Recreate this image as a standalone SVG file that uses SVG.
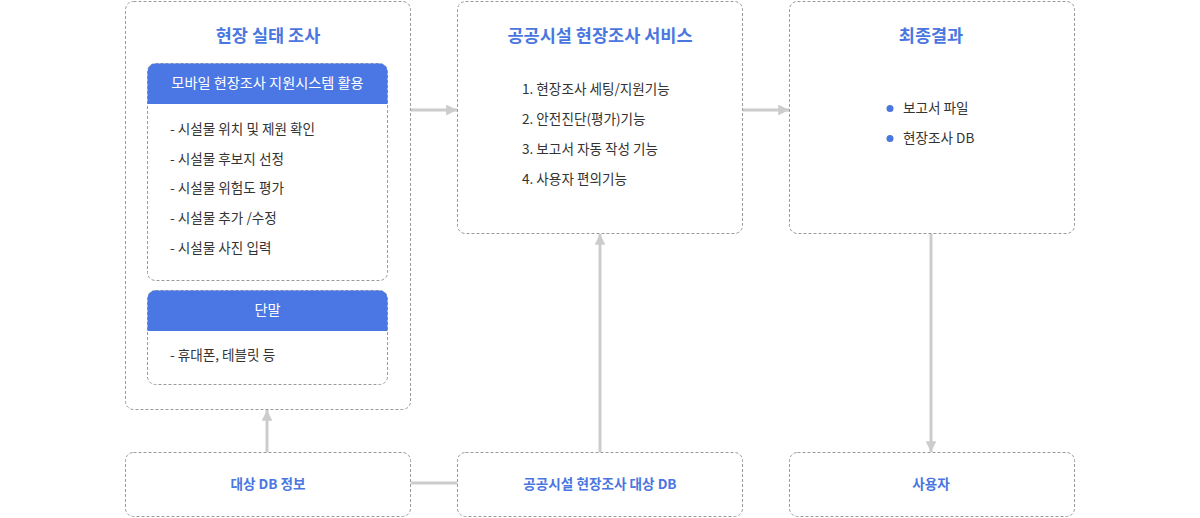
<svg xmlns="http://www.w3.org/2000/svg" width="1200" height="518" viewBox="0 0 1200 518">
<style>
.box{fill:#fff;stroke:#9a9a9a;stroke-width:1;stroke-dasharray:3,2}
.hdr{fill:#4a77e3}
.title{font-family:"Noto Sans CJK KR","Noto Sans",sans-serif;font-size:17.5px;font-weight:bold;fill:#4a76e0;text-anchor:middle}
.htxt{font-family:"Noto Sans CJK KR","Noto Sans",sans-serif;font-size:14.2px;fill:#fff;text-anchor:middle}
.item{font-family:"Noto Sans CJK KR","Noto Sans",sans-serif;font-size:13.6px;fill:#333}
.btm{font-family:"Noto Sans CJK KR","Noto Sans",sans-serif;font-size:13.6px;font-weight:bold;fill:#4a76e0;text-anchor:middle}
.conn{stroke:#cccccc;stroke-width:3;fill:none}
</style>
<defs>
<marker id="ah" viewBox="0 0 10 10" refX="10" refY="5" markerWidth="3.6" markerHeight="3.6" orient="auto" markerUnits="strokeWidth">
<path d="M0,0 L10,5 L0,10 z" fill="#cccccc"/>
</marker>
</defs>
<g id="connectors">
<line class="conn" x1="410.5" y1="110" x2="457" y2="110" marker-end="url(#ah)"/>
<line class="conn" x1="742.5" y1="110" x2="789" y2="110" marker-end="url(#ah)"/>
<line class="conn" x1="931" y1="233.5" x2="931" y2="452" marker-end="url(#ah)"/>
<line class="conn" x1="600" y1="452.5" x2="600" y2="234" marker-end="url(#ah)"/>
<line class="conn" x1="267" y1="452.5" x2="267" y2="410" marker-end="url(#ah)"/>
<line class="conn" x1="410.5" y1="483" x2="457.5" y2="483"/>
</g>
<g id="node-survey">
<rect class="box" x="125.5" y="1.5" width="285" height="408" rx="8"/>
<text class="title" x="268" y="42">현장 실태 조사</text>
<g id="node-mobile">
<rect class="box" x="147.5" y="63.5" width="240" height="217" rx="8"/>
<path class="hdr" d="M147.5,104 V71.5 A8,8 0 0 1 155.5,63.5 H379.5 A8,8 0 0 1 387.5,71.5 V104 Z"/>
<text class="htxt" x="267.5" y="88">모바일 현장조사 지원시스템 활용</text>
<text class="item" x="170" y="134">- 시설물 위치 및 제원 확인</text>
<text class="item" x="170" y="164">- 시설물 후보지 선정</text>
<text class="item" x="170" y="193">- 시설물 위험도 평가</text>
<text class="item" x="170" y="223">- 시설물 추가 /수정</text>
<text class="item" x="170" y="253">- 시설물 사진 입력</text>
</g>
<g id="node-device">
<rect class="box" x="147.5" y="290.5" width="240" height="94" rx="8"/>
<path class="hdr" d="M147.5,331 V298.5 A8,8 0 0 1 155.5,290.5 H379.5 A8,8 0 0 1 387.5,298.5 V331 Z"/>
<text class="htxt" x="267.5" y="315">단말</text>
<text class="item" x="170" y="360">- 휴대폰, 테블릿 등</text>
</g>
</g>
<g id="node-service">
<rect class="box" x="457.5" y="1.5" width="285" height="232" rx="8"/>
<text class="title" x="600" y="42">공공시설 현장조사 서비스</text>
<text class="item" x="522" y="94">1. 현장조사 세팅/지원기능</text>
<text class="item" x="522" y="124">2. 안전진단(평가)기능</text>
<text class="item" x="522" y="154">3. 보고서 자동 작성 기능</text>
<text class="item" x="522" y="184">4. 사용자 편의기능</text>
</g>
<g id="node-result">
<rect class="box" x="789.5" y="1.5" width="285" height="232" rx="8"/>
<text class="title" x="931" y="42">최종결과</text>
<circle cx="890" cy="108.5" r="3.5" fill="#4a76e0"/>
<circle cx="890" cy="138.5" r="3.5" fill="#4a76e0"/>
<text class="item" x="903" y="113">보고서 파일</text>
<text class="item" x="903" y="143">현장조사 DB</text>
</g>
<g id="node-targetdb">
<rect class="box" x="125.5" y="452.5" width="285" height="64" rx="8"/>
<text class="btm" x="268" y="489">대상 DB 정보</text>
</g>
<g id="node-publicdb">
<rect class="box" x="457.5" y="452.5" width="285" height="64" rx="8"/>
<text class="btm" x="600" y="489">공공시설 현장조사 대상 DB</text>
</g>
<g id="node-user">
<rect class="box" x="789.5" y="452.5" width="285" height="64" rx="8"/>
<text class="btm" x="931" y="489">사용자</text>
</g>
</svg>
